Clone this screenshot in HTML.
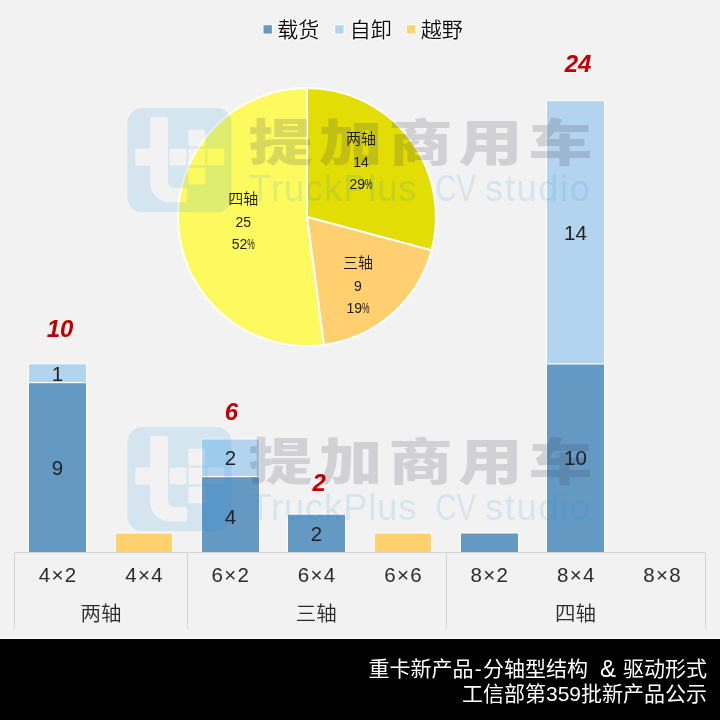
<!DOCTYPE html><html lang="zh"><head><meta charset="utf-8"><title>重卡新产品-分轴型结构 &amp; 驱动形式</title>
<style>html,body{margin:0;padding:0;background:#F2F2F2;}body{width:720px;height:720px;overflow:hidden;font-family:"Liberation Sans","Noto Sans CJK SC",sans-serif;}svg{display:block}text{font-family:"Liberation Sans","Noto Sans CJK SC",sans-serif;}</style></head><body>
<svg width="720" height="720" viewBox="0 0 720 720">
<rect width="720" height="720" fill="#F2F2F2"/>
<clipPath id="cb"><rect x="0" y="0" width="720" height="552"/></clipPath>
<g stroke="#FFFFFF" stroke-width="1" clip-path="url(#cb)">
<rect x="28.50" y="382.60" width="58" height="171.40" fill="#6499C4"/>
<rect x="28.50" y="363.80" width="58" height="18.80" fill="#B3D4EE"/>
<rect x="115.50" y="533.00" width="57" height="21.00" fill="#FFD06E"/>
<rect x="201.50" y="476.60" width="58" height="77.40" fill="#6499C4"/>
<rect x="201.50" y="439.00" width="58" height="37.60" fill="#B3D4EE"/>
<rect x="287.50" y="514.20" width="58" height="39.80" fill="#6499C4"/>
<rect x="374.50" y="533.00" width="57" height="21.00" fill="#FFD06E"/>
<rect x="460.50" y="533.00" width="58" height="21.00" fill="#6499C4"/>
<rect x="546.50" y="363.80" width="58" height="190.20" fill="#6499C4"/>
<rect x="546.50" y="100.60" width="58" height="263.20" fill="#B3D4EE"/>
</g>
<g stroke="#D4D4D4" stroke-width="1" fill="none" shape-rendering="crispEdges">
<line x1="14" y1="552.5" x2="705" y2="552.5"/>
<line x1="14.5" y1="552" x2="14.5" y2="628.5"/>
<line x1="187.5" y1="552" x2="187.5" y2="628.5"/>
<line x1="446.5" y1="552" x2="446.5" y2="628.5"/>
<line x1="705.5" y1="552" x2="705.5" y2="628.5"/>
</g>
<g stroke="#FFFFFF" stroke-width="2" stroke-linejoin="round">
<path d="M307,217 L307.00,88.00 A129,129 0 0 1 431.60,250.39 Z" fill="#E1DD05"/>
<path d="M307,217 L431.60,250.39 A129,129 0 0 1 323.84,344.90 Z" fill="#FFCF70"/>
<path d="M307,217 L323.84,344.90 A129,129 0 1 1 307.00,88.00 Z" fill="#FDFA5F"/>
</g>
<g transform="translate(0,0)">
<path d="M142.5,427 H216.5 A15,15 0 0 1 231.5,442 V516.3 A15,15 0 0 1 216.5,531.3 H142.5 A15,15 0 0 1 127.5,516.3 V442 A15,15 0 0 1 142.5,427 Z M152,436 H166 A2,2 0 0 1 168,438 V501 A6,6 0 0 0 174,507 H185 A2,2 0 0 1 187,509 V519.5 A2,2 0 0 1 185,521.5 H170 A20,20 0 0 1 150,501.5 V484.7 H137.3 A2,2 0 0 1 135.3,482.7 V469.5 A2,2 0 0 1 137.3,467.5 H150 V438 A2,2 0 0 1 152,436 Z M171.5,467.5 H184.5 A2,2 0 0 1 186.5,469.5 V482.5 A2,2 0 0 1 184.5,484.5 H171.5 A2,2 0 0 1 169.5,482.5 V469.5 A2,2 0 0 1 171.5,467.5 Z M190.3,467.5 H203.3 A2,2 0 0 1 205.3,469.5 V482.5 A2,2 0 0 1 203.3,484.5 H190.3 A2,2 0 0 1 188.3,482.5 V469.5 A2,2 0 0 1 190.3,467.5 Z M209.2,467.5 H222.2 A2,2 0 0 1 224.2,469.5 V482.5 A2,2 0 0 1 222.2,484.5 H209.2 A2,2 0 0 1 207.2,482.5 V469.5 A2,2 0 0 1 209.2,467.5 Z M190.3,448.7 H203.3 A2,2 0 0 1 205.3,450.7 V463.7 A2,2 0 0 1 203.3,465.7 H190.3 A2,2 0 0 1 188.3,463.7 V450.7 A2,2 0 0 1 190.3,448.7 Z M190.3,486.5 H203.3 A2,2 0 0 1 205.3,488.5 V501.5 A2,2 0 0 1 203.3,503.5 H190.3 A2,2 0 0 1 188.3,501.5 V488.5 A2,2 0 0 1 190.3,486.5 Z " fill="#088EE1" fill-opacity="0.125" fill-rule="evenodd"/>
<text transform="translate(248.5,480) scale(1.28,1)" x="0" y="0" font-size="50" font-weight="900" letter-spacing="4.7" fill="#3A3A55" fill-opacity="0.18">提加商用车</text>
<text font-size="36.3" fill="#088EE1" fill-opacity="0.125" y="520.3" xml:space="preserve"><tspan x="249.2" textLength="167.3" lengthAdjust="spacing">TruckPlus</tspan> <tspan x="435.5" textLength="40.5" lengthAdjust="spacingAndGlyphs">CV</tspan> <tspan x="485" textLength="105" lengthAdjust="spacing">studio</tspan></text>
</g>
<g transform="translate(0,-319)">
<path d="M142.5,427 H216.5 A15,15 0 0 1 231.5,442 V516.3 A15,15 0 0 1 216.5,531.3 H142.5 A15,15 0 0 1 127.5,516.3 V442 A15,15 0 0 1 142.5,427 Z M152,436 H166 A2,2 0 0 1 168,438 V501 A6,6 0 0 0 174,507 H185 A2,2 0 0 1 187,509 V519.5 A2,2 0 0 1 185,521.5 H170 A20,20 0 0 1 150,501.5 V484.7 H137.3 A2,2 0 0 1 135.3,482.7 V469.5 A2,2 0 0 1 137.3,467.5 H150 V438 A2,2 0 0 1 152,436 Z M171.5,467.5 H184.5 A2,2 0 0 1 186.5,469.5 V482.5 A2,2 0 0 1 184.5,484.5 H171.5 A2,2 0 0 1 169.5,482.5 V469.5 A2,2 0 0 1 171.5,467.5 Z M190.3,467.5 H203.3 A2,2 0 0 1 205.3,469.5 V482.5 A2,2 0 0 1 203.3,484.5 H190.3 A2,2 0 0 1 188.3,482.5 V469.5 A2,2 0 0 1 190.3,467.5 Z M209.2,467.5 H222.2 A2,2 0 0 1 224.2,469.5 V482.5 A2,2 0 0 1 222.2,484.5 H209.2 A2,2 0 0 1 207.2,482.5 V469.5 A2,2 0 0 1 209.2,467.5 Z M190.3,448.7 H203.3 A2,2 0 0 1 205.3,450.7 V463.7 A2,2 0 0 1 203.3,465.7 H190.3 A2,2 0 0 1 188.3,463.7 V450.7 A2,2 0 0 1 190.3,448.7 Z M190.3,486.5 H203.3 A2,2 0 0 1 205.3,488.5 V501.5 A2,2 0 0 1 203.3,503.5 H190.3 A2,2 0 0 1 188.3,501.5 V488.5 A2,2 0 0 1 190.3,486.5 Z " fill="#088EE1" fill-opacity="0.125" fill-rule="evenodd"/>
<text transform="translate(248.5,480) scale(1.28,1)" x="0" y="0" font-size="50" font-weight="900" letter-spacing="4.7" fill="#3A3A55" fill-opacity="0.18">提加商用车</text>
<text font-size="36.3" fill="#088EE1" fill-opacity="0.125" y="520.3" xml:space="preserve"><tspan x="249.2" textLength="167.3" lengthAdjust="spacing">TruckPlus</tspan> <tspan x="435.5" textLength="40.5" lengthAdjust="spacingAndGlyphs">CV</tspan> <tspan x="485" textLength="105" lengthAdjust="spacing">studio</tspan></text>
</g>
<g font-size="20.5" fill="#222222" text-anchor="middle">
<text x="57.5" y="474.8">9</text>
<text x="57.5" y="380.8">1</text>
<text x="230.5" y="523.8">4</text>
<text x="230.5" y="465.4">2</text>
<text x="316.5" y="540.6">2</text>
<text x="575.5" y="465.4">10</text>
<text x="575.5" y="239.8">14</text>
</g>
<g font-size="24" font-weight="bold" font-style="italic" fill="#C00000" text-anchor="middle">
<text x="60.0" y="337.2">10</text>
<text x="231.5" y="420.0">6</text>
<text x="319.3" y="491.0">2</text>
<text x="578.0" y="72.2">24</text>
</g>
<g font-size="20.5" font-weight="350" fill="#2B2B2B" text-anchor="middle">
<text x="58.2" y="582" letter-spacing="1.3">4×2</text>
<text x="144.6" y="582" letter-spacing="1.3">4×4</text>
<text x="230.9" y="582" letter-spacing="1.3">6×2</text>
<text x="317.2" y="582" letter-spacing="1.3">6×4</text>
<text x="403.6" y="582" letter-spacing="1.3">6×6</text>
<text x="489.9" y="582" letter-spacing="1.3">8×2</text>
<text x="576.3" y="582" letter-spacing="1.3">8×4</text>
<text x="662.6" y="582" letter-spacing="1.3">8×8</text>
<text x="101" y="621" font-size="20.5">两轴</text>
<text x="316.3" y="621" font-size="20.5">三轴</text>
<text x="575.5" y="621" font-size="20.5">四轴</text>
</g>
<g font-size="14" font-weight="350" fill="#1A1A1A" text-anchor="middle">
<text x="361" y="143.9" font-size="15">两轴</text>
<text x="361" y="166.5">14</text>
<text x="361" y="188.7">29<tspan textLength="7.5" lengthAdjust="spacingAndGlyphs">%</tspan></text>
<text x="358" y="267.8" font-size="15">三轴</text>
<text x="358" y="290.7">9</text>
<text x="358" y="312.7">19<tspan textLength="7.5" lengthAdjust="spacingAndGlyphs">%</tspan></text>
<text x="243.3" y="203.7" font-size="15">四轴</text>
<text x="243.3" y="226.6">25</text>
<text x="243.3" y="248.6">52<tspan textLength="7.5" lengthAdjust="spacingAndGlyphs">%</tspan></text>
</g>
<g stroke="#FFFFFF" stroke-width="1">
<rect x="263" y="24.7" width="9.4" height="9.4" fill="#6499C4"/>
<rect x="334.7" y="24.7" width="9.4" height="9.4" fill="#B3D4EE"/>
<rect x="406.5" y="24.7" width="9.4" height="9.4" fill="#FFD06E"/>
</g>
<g font-size="21" font-weight="350" fill="#080808" stroke="#FFFFFF" stroke-width="2.5" stroke-opacity="0.75" stroke-linejoin="round" paint-order="stroke">
<text x="277.2" y="37.2">载货</text>
<text x="349.8" y="37.2">自卸</text>
<text x="420.8" y="37.2">越野</text>
</g>
<rect x="0" y="638" width="720" height="1" fill="#FFFFFF"/>
<rect x="0" y="639" width="720" height="81" fill="#000000"/>
<g font-size="21" fill="#FFFFFF" text-anchor="end">
<text x="588" y="676">重卡新产品<tspan dx="1.2" letter-spacing="1.3">-</tspan>分轴型结构</text><text x="608" y="676.5" text-anchor="middle" font-size="24">&amp;</text><text x="707" y="676">驱动形式</text>
<text x="707" y="700.5">工信部第359批新产品公示</text>
</g>
</svg></body></html>
